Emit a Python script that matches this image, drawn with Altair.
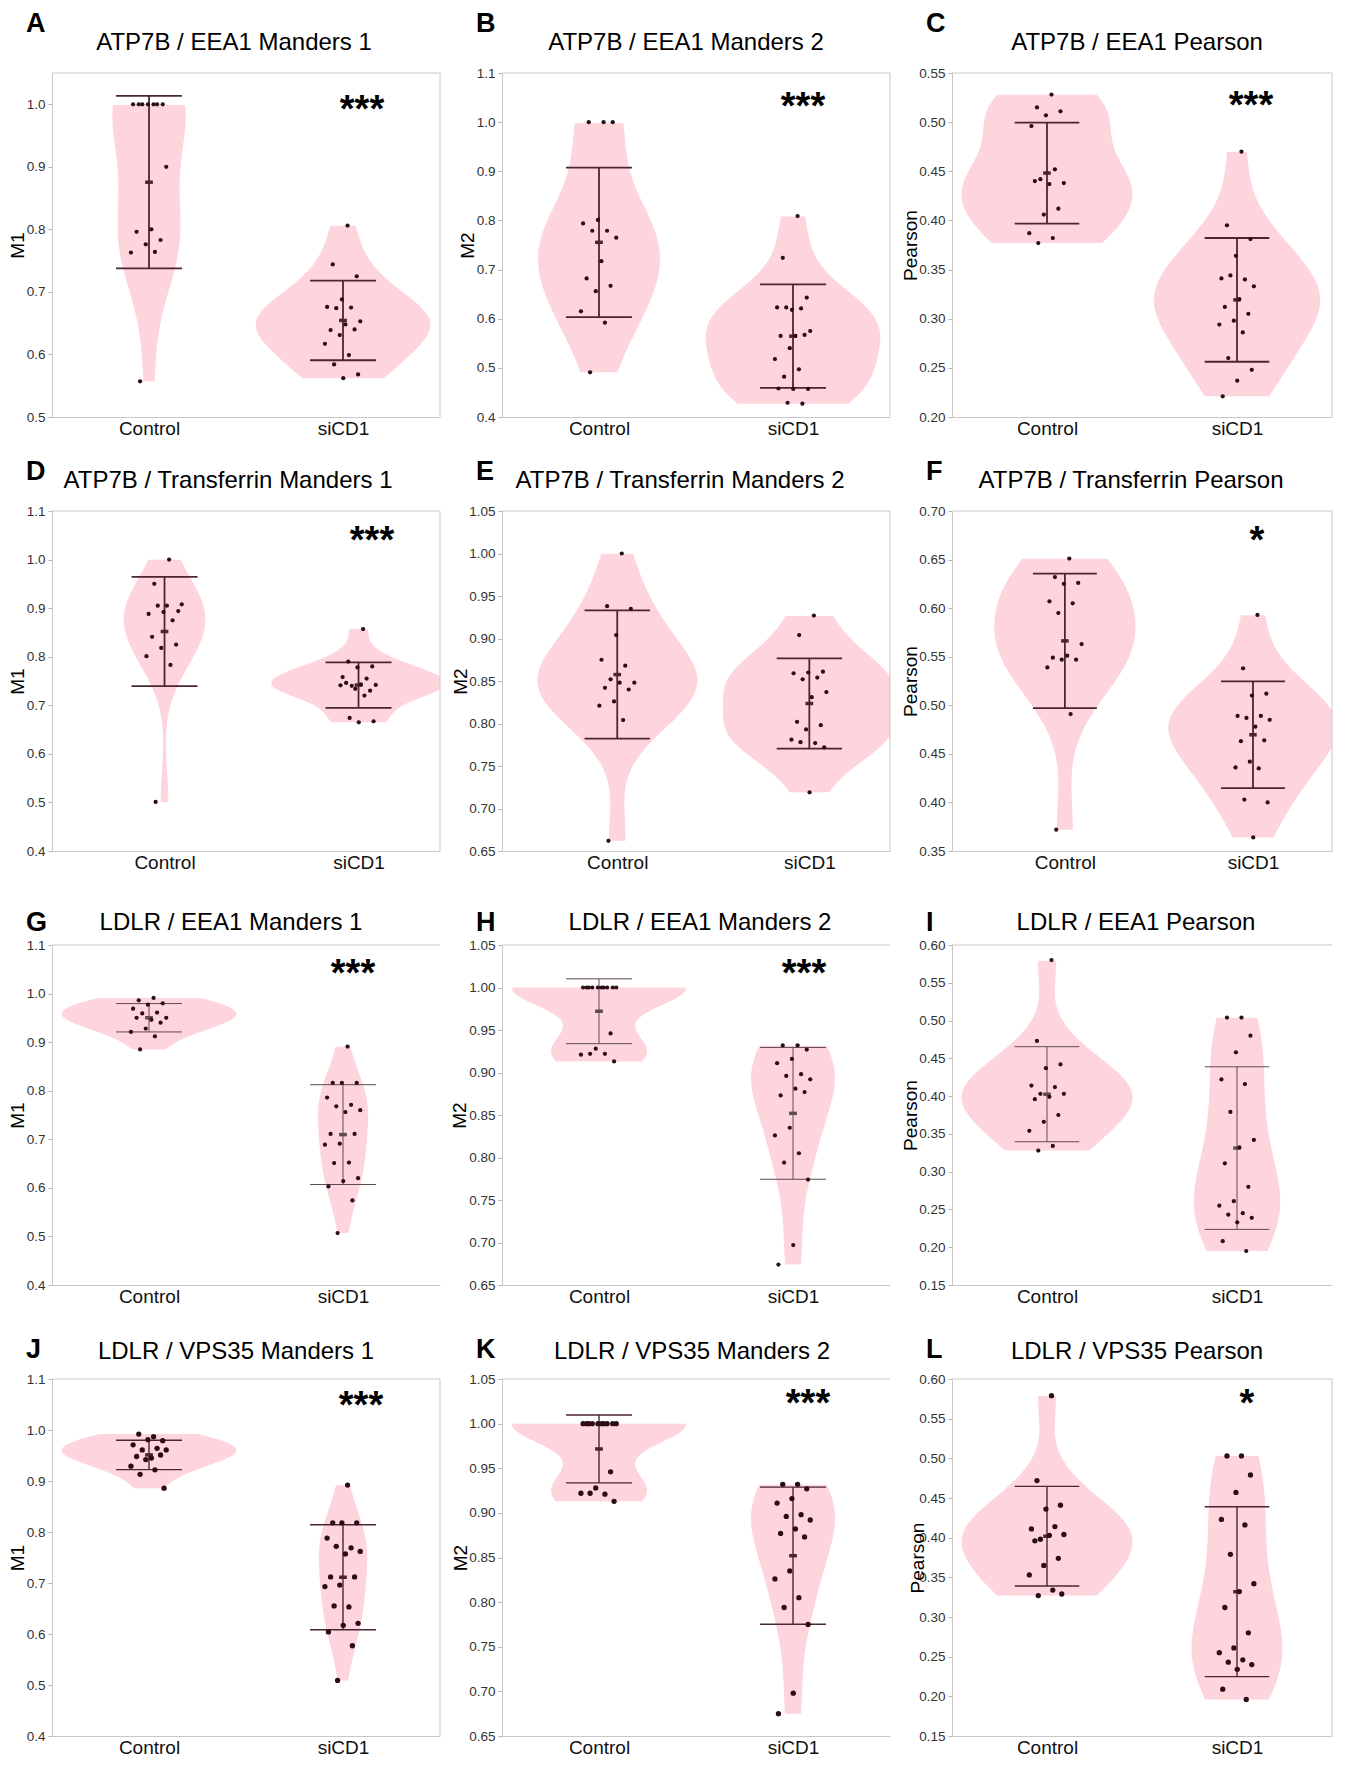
import altair as alt
import pandas as pd

# ---------------- data ----------------
groups = ["Control", "siCD1"]
letters = ["A", "B", "C", "D", "E", "F", "G", "H", "I", "J", "K", "L"]
titles = [
    "ATP7B / EEA1 Manders 1", "ATP7B / EEA1 Manders 2", "ATP7B / EEA1 Pearson",
    "ATP7B / Transferrin Manders 1", "ATP7B / Transferrin Manders 2", "ATP7B / Transferrin Pearson",
    "LDLR / EEA1 Manders 1", "LDLR / EEA1 Manders 2", "LDLR / EEA1 Pearson",
    "LDLR / VPS35 Manders 1", "LDLR / VPS35 Manders 2", "LDLR / VPS35 Pearson",
]
y_titles = ["M1", "M2", "Pearson"] * 4
stars = ["***", "***", "***", "***", "", "*", "***", "***", "", "***", "***", "*"]

ctrl_A = [1.0, 1.0, 1.0, 1.0, 1.0, 1.0, 1.0, 0.900, 0.800, 0.796, 0.783, 0.776, 0.763, 0.764, 0.557]
si_A = [0.806, 0.744, 0.725, 0.688, 0.676, 0.675, 0.674, 0.653, 0.648, 0.639, 0.640, 0.631, 0.617,
        0.599, 0.584, 0.568, 0.562]
ctrl_B = [1.0, 1.0, 1.0, 0.801, 0.794, 0.779, 0.779, 0.765, 0.717, 0.682, 0.667, 0.656, 0.615, 0.592, 0.491]
si_B = [0.809, 0.724, 0.643, 0.618, 0.623, 0.621, 0.623, 0.575, 0.565, 0.565, 0.567, 0.540, 0.518,
        0.497, 0.482, 0.457, 0.457, 0.458, 0.427, 0.429]
ctrl_C = [0.528, 0.515, 0.511, 0.507, 0.496, 0.452, 0.442, 0.438, 0.437, 0.440, 0.412, 0.406, 0.387,
          0.382, 0.377]
si_C = [0.470, 0.395, 0.381, 0.364, 0.341, 0.340, 0.344, 0.333, 0.320, 0.312, 0.305, 0.298, 0.294,
        0.286, 0.260, 0.248, 0.237, 0.221]
ctrl_D = [1.0, 0.950, 0.894, 0.892, 0.888, 0.875, 0.905, 0.908, 0.905, 0.841, 0.825, 0.818, 0.801,
          0.783, 0.501]
si_D = [0.857, 0.790, 0.780, 0.778, 0.758, 0.755, 0.740, 0.742, 0.743, 0.746, 0.730, 0.734, 0.741,
        0.720, 0.674, 0.667, 0.665]
ctrl_E = [1.0, 0.938, 0.935, 0.904, 0.875, 0.868, 0.852, 0.848, 0.848, 0.842, 0.840, 0.826, 0.821,
          0.804, 0.662]
si_E = [0.927, 0.904, 0.861, 0.860, 0.859, 0.854, 0.852, 0.837, 0.831, 0.802, 0.798, 0.793, 0.781,
        0.777, 0.778, 0.772, 0.719]
ctrl_F = [0.651, 0.632, 0.626, 0.625, 0.607, 0.605, 0.595, 0.563, 0.551, 0.549, 0.547, 0.547, 0.539,
          0.491, 0.372]
si_F = [0.593, 0.538, 0.512, 0.510, 0.489, 0.489, 0.487, 0.485, 0.478, 0.463, 0.464, 0.442, 0.436,
        0.435, 0.403, 0.400, 0.364]
ctrl_G = [0.991, 0.986, 0.980, 0.977, 0.969, 0.961, 0.959, 0.950, 0.946, 0.950, 0.940, 0.928, 0.921,
          0.912, 0.885]
si_G = [0.891, 0.816, 0.816, 0.816, 0.786, 0.771, 0.768, 0.760, 0.756, 0.711, 0.711, 0.691, 0.689,
        0.652, 0.651, 0.620, 0.614, 0.603, 0.574, 0.507]
ctrl_H = [1.0, 1.0, 1.0, 1.0, 1.0, 1.0, 1.0, 1.0, 1.0, 1.0, 0.946, 0.928, 0.921, 0.922, 0.922, 0.913]
si_H = [0.932, 0.932, 0.927, 0.916, 0.911, 0.898, 0.896, 0.892, 0.881, 0.873, 0.877, 0.835, 0.826,
        0.805, 0.794, 0.774, 0.697, 0.674]
ctrl_I = [0.580, 0.473, 0.442, 0.437, 0.414, 0.412, 0.403, 0.403, 0.399, 0.396, 0.375, 0.366, 0.354,
          0.334, 0.328]
si_I = [0.504, 0.504, 0.480, 0.458, 0.422, 0.416, 0.379, 0.342, 0.332, 0.311, 0.280, 0.261, 0.255,
        0.245, 0.243, 0.239, 0.233, 0.208, 0.195]
ctrl_J = [0.987, 0.992, 0.979, 0.981, 0.971, 0.964, 0.961, 0.961, 0.945, 0.948, 0.951, 0.942, 0.929,
          0.922, 0.913, 0.886]
si_J = [0.892, 0.818, 0.818, 0.818, 0.788, 0.769, 0.772, 0.762, 0.757, 0.712, 0.712, 0.696, 0.693,
        0.653, 0.655, 0.621, 0.617, 0.604, 0.577, 0.509]
ctrl_K = [1.0, 1.0, 1.0, 1.0, 1.0, 1.0, 1.0, 1.0, 1.0, 1.0, 0.946, 0.928, 0.922, 0.921, 0.922, 0.913]
si_K = [0.932, 0.932, 0.927, 0.916, 0.911, 0.898, 0.896, 0.892, 0.882, 0.877, 0.873, 0.835, 0.826,
        0.805, 0.794, 0.775, 0.698, 0.675]
ctrl_L = [0.579, 0.472, 0.441, 0.436, 0.411, 0.414, 0.398, 0.404, 0.403, 0.396, 0.374, 0.365, 0.353,
          0.334, 0.327, 0.329]
si_L = [0.503, 0.503, 0.479, 0.457, 0.423, 0.416, 0.379, 0.342, 0.332, 0.312, 0.280, 0.261, 0.255,
        0.246, 0.243, 0.240, 0.234, 0.209, 0.196]

controls = [ctrl_A, ctrl_B, ctrl_C, ctrl_D, ctrl_E, ctrl_F, ctrl_G, ctrl_H, ctrl_I, ctrl_J, ctrl_K, ctrl_L]
sicd1s = [si_A, si_B, si_C, si_D, si_E, si_F, si_G, si_H, si_I, si_J, si_K, si_L]

# error bars (mean - SD, mean + SD) as drawn: [[Control low, high], [siCD1 low, high]]
errors = [
    [[0.7375, 1.0133], [0.5907, 0.7182]],
    [[0.6033, 0.9076], [0.4592, 0.6698]],
    [[0.3968, 0.4996], [0.2562, 0.3821]],
    [[0.7395, 0.9643], [0.6948, 0.7883]],
    [[0.7821, 0.9330], [0.7704, 0.8766]],
    [[0.4971, 0.6355], [0.4147, 0.5246]],
    [[0.9210, 0.9794], [0.6069, 0.8124]],
    [[0.9339, 1.0102], [0.7744, 0.9295]],
    [[0.3396, 0.4654], [0.2236, 0.4388]],
    [[0.9223, 0.9800], [0.6084, 0.8142]],
    [[0.9336, 1.0096], [0.7752, 0.9288]],
    [[0.3390, 0.4647], [0.2249, 0.4389]],
]

# y axes (tick labels)
t_a = [0.5, 0.6, 0.7, 0.8, 0.9, 1.0]
t_11 = [0.4, 0.5, 0.6, 0.7, 0.8, 0.9, 1.0, 1.1]
t_c = [0.20, 0.25, 0.30, 0.35, 0.40, 0.45, 0.50, 0.55]
t_105 = [0.65, 0.70, 0.75, 0.80, 0.85, 0.90, 0.95, 1.00, 1.05]
t_f = [0.35, 0.40, 0.45, 0.50, 0.55, 0.60, 0.65, 0.70]
t_60 = [0.15, 0.20, 0.25, 0.30, 0.35, 0.40, 0.45, 0.50, 0.55, 0.60]
y_ticks = [t_a, t_11, t_c, t_11, t_105, t_f, t_11, t_105, t_60, t_11, t_105, t_60]
y_domains = [[0.5, 1.05], [0.4, 1.1], [0.2, 0.55], [0.4, 1.1], [0.65, 1.05], [0.35, 0.70],
             [0.4, 1.1], [0.65, 1.05], [0.15, 0.60], [0.4, 1.1], [0.65, 1.05], [0.15, 0.60]]
y_formats = [".1f", ".1f", ".2f", ".1f", ".2f", ".2f", ".1f", ".2f", ".2f", ".1f", ".2f", ".2f"]

# ---------------- layout / style ----------------
FONT = "Liberation Sans"
PINK = "#ffd5dd"
PT = "#2b0d18"
EBC = "#4a2632"
FRAME = "#c8c8c8"
GROUPS_JS = "['" + "','".join(groups) + "']"

col_w = [388, 388, 380]
row_h = [344, 340, 340, 357]
x_domains = [[-0.5, 1.5]] * 3 + [[-0.58, 1.42], [-0.6, 1.42], [-0.6, 1.42]] + [[-0.5, 1.5]] * 6
framed = [True] * 6 + [False, False, False, True, False, True]
title_x = [182, 184, 185, 176, 178, 179, 179, 198, 184, 184, 190, 185]
title_y = [-23, -23, -15, -20]
letter_y = [-41, -31, -14, -21]
ytitle_x = [-29, -29, -36, -29, -36, -36, -29, -37, -36, -29, -36, -29]
star_x = [310, 301, 299, 320, 0, 305, 301, 302, 0, 309, 306, 295]
star_y = [27, 24, 23, 20, 0, 20, 19, 19, 0, 17, 15, 15]
eb_w = [1.8, 1.8, 1.0, 1.4]
eb_c = [EBC, EBC, "#5e4a50", EBC]
pt_size = [18, 18, 18, 28]


def panel(i):
    row, col = divmod(i, 3)
    W, H = col_w[col], row_h[row]
    xs = alt.Scale(domain=x_domains[i], nice=False, zero=False)
    ys = alt.Scale(domain=y_domains[i], nice=False, zero=False)
    c_vals, s_vals = controls[i], sicd1s[i]
    df = pd.DataFrame({"group": [groups[0]] * len(c_vals) + [groups[1]] * len(s_vals),
                       "value": c_vals + s_vals})
    err_df = pd.DataFrame({"group": groups,
                           "lo": [errors[i][0][0], errors[i][1][0]],
                           "hi": [errors[i][0][1], errors[i][1][1]]})

    yaxis = alt.Axis(title=y_titles[i], values=y_ticks[i], format=y_formats[i], grid=False,
                     domain=True, domainColor=FRAME, ticks=True, tickColor="#b5b5b5", tickSize=4,
                     labelFontSize=13.5, labelColor="#333333", labelPadding=3, labelFont=FONT,
                     labelOverlap=False, titleFontSize=19, titleFontWeight="normal",
                     titleColor="#000000", titleFont=FONT, titleX=ytitle_x[i],
                     titleBaseline="alphabetic")
    xaxis = alt.Axis(title=None, values=[0, 1], labelExpr=GROUPS_JS + "[datum.value]", ticks=False,
                     grid=False, domain=True, domainColor=FRAME, labelFontSize=19,
                     labelColor="#111111", labelPadding=2, labelFont=FONT, labelFlush=False)

    # Gaussian kernel density per group, bandwidth by Scott's rule, trimmed to the data range,
    # widths proportional to density (widest violin of a panel = 0.9 of the category step)
    violin = alt.Chart(df).transform_joinaggregate(
        gmin="min(value)", gmax="max(value)", sd="stdev(value)", n="count()", groupby=["group"]
    ).transform_calculate(
        bw="1.06 * datum.sd * pow(datum.n, -0.2)"
    ).transform_calculate(
        u="(datum.value - datum.gmin) / datum.bw"
    ).transform_density(
        "u", groupby=["group", "gmin", "gmax", "bw"], extent=[0, 24], steps=961, bandwidth=1,
        as_=["u", "dens"]
    ).transform_calculate(
        v="datum.gmin + datum.u * datum.bw", d="datum.dens / datum.bw"
    ).transform_filter(
        "datum.v <= datum.gmax + 1e-9"
    ).transform_joinaggregate(
        dmax="max(d)"
    ).transform_calculate(
        c="indexof(" + GROUPS_JS + ", datum.group)"
    ).transform_calculate(
        lo="datum.c - 0.45 * datum.d / datum.dmax", hi="datum.c + 0.45 * datum.d / datum.dmax"
    ).mark_area(orient="horizontal", color=PINK, opacity=1, clip=True).encode(
        y=alt.Y("v:Q", scale=ys, axis=yaxis),
        x=alt.X("lo:Q", scale=xs, axis=xaxis),
        x2="hi:Q",
        detail="group:N",
    )

    eb = alt.Chart(err_df).transform_calculate(
        c="indexof(" + GROUPS_JS + ", datum.group)"
    ).transform_calculate(
        m="(datum.lo + datum.hi) / 2", l="datum.c - 0.17", r="datum.c + 0.17",
        ml="datum.c - 0.02", mr="datum.c + 0.02"
    )
    ew, ec = eb_w[row], eb_c[row]
    stem = eb.mark_rule(color=ec, strokeWidth=ew).encode(
        x=alt.X("c:Q", scale=xs, axis=None), y=alt.Y("lo:Q", scale=ys, axis=None), y2="hi:Q")
    cap_lo = eb.mark_rule(color=ec, strokeWidth=ew).encode(
        x=alt.X("l:Q", scale=xs, axis=None), x2="r:Q", y=alt.Y("lo:Q", scale=ys, axis=None))
    cap_hi = eb.mark_rule(color=ec, strokeWidth=ew).encode(
        x=alt.X("l:Q", scale=xs, axis=None), x2="r:Q", y=alt.Y("hi:Q", scale=ys, axis=None))
    mean = eb.mark_rule(color=ec, strokeWidth=3.5).encode(
        x=alt.X("ml:Q", scale=xs, axis=None), x2="mr:Q", y=alt.Y("m:Q", scale=ys, axis=None))

    pts = alt.Chart(df).transform_window(
        rn="row_number()", groupby=["group"]
    ).transform_calculate(
        c="indexof(" + GROUPS_JS + ", datum.group)"
    ).transform_calculate(
        px="datum.c + ((datum.rn * 0.618034) % 1 - 0.5) * 0.2"
    ).mark_circle(color=PT, opacity=1, size=pt_size[row]).encode(
        x=alt.X("px:Q", scale=xs, axis=None), y=alt.Y("value:Q", scale=ys, axis=None))

    lab = pd.DataFrame({"t": [titles[i]], "l": [letters[i]], "s": [stars[i]]})
    title_t = alt.Chart(lab).mark_text(font=FONT, fontSize=24, align="center", baseline="alphabetic",
                                       color="#000000").encode(
        text="t:N", x=alt.value(title_x[i]), y=alt.value(title_y[row]))
    letter_t = alt.Chart(lab).mark_text(font=FONT, fontSize=27, fontWeight="bold", align="left",
                                        baseline="alphabetic", color="#000000").encode(
        text="l:N", x=alt.value(-26), y=alt.value(letter_y[row]))
    top_rule = alt.Chart(lab).mark_rule(color=FRAME, strokeWidth=1).encode(
        x=alt.value(0), x2=alt.value(W), y=alt.value(0))

    layers = [violin, stem, cap_lo, cap_hi, mean, pts, top_rule, title_t, letter_t]
    if framed[i]:
        layers.append(alt.Chart(lab).mark_rule(color=FRAME, strokeWidth=1).encode(
            x=alt.value(W), y=alt.value(0), y2=alt.value(H)))
    if stars[i]:
        layers.append(alt.Chart(lab).mark_text(font=FONT, fontSize=38, fontWeight="bold",
                                               align="center", baseline="alphabetic",
                                               color="#000000").encode(
            text="s:N", x=alt.value(star_x[i]), y=alt.value(star_y[i] + 22)))
    return alt.layer(*layers).resolve_axis(x="independent", y="independent").properties(
        width=W, height=H)


chart = alt.concat(
    *[panel(i) for i in range(12)],
    columns=3,
    spacing=alt.RowColnumber(row=94, column=62),
    bounds="flush",
).properties(
    padding={"top": 2, "left": 0, "right": 0, "bottom": 0},
    background="white",
).configure_view(stroke=None)

chart.save("out.html", embed_options={"renderer": "svg", "actions": False})
